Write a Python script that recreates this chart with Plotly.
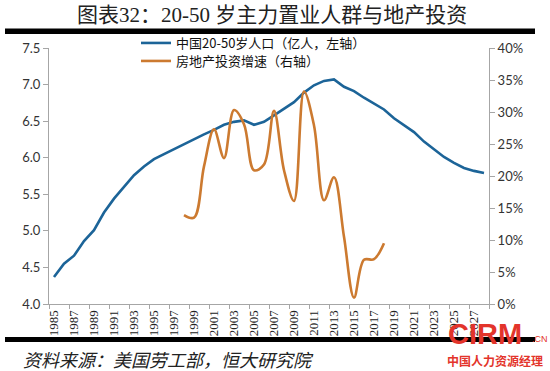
import plotly.graph_objects as go

# ---- data ----
pop_years = list(range(1985, 2029))
pop_values = [4.37, 4.55, 4.66, 4.86, 5.01, 5.25, 5.44, 5.60, 5.76, 5.88,
              5.98, 6.05, 6.12, 6.19, 6.26, 6.32, 6.38, 6.45, 6.49, 6.51,
              6.45, 6.49, 6.58, 6.67, 6.76, 6.89, 6.99, 7.05, 7.07, 6.97,
              6.91, 6.82, 6.74, 6.66, 6.54, 6.45, 6.35, 6.22, 6.11, 6.01,
              5.93, 5.86, 5.82, 5.79]

inv_years = list(range(1998, 2019))
inv_values = [13.9, 13.5, 21.5, 27.3, 22.8, 30.3, 28.1, 20.9, 21.8, 30.2,
              20.9, 16.1, 33.2, 27.9, 16.2, 19.8, 10.5, 1.0, 6.9, 7.0, 9.5]

x_tick_years = list(range(1985, 2028, 2))
x_tick_labels = [str(y) for y in x_tick_years]
x_minor_ticks = [1984.5 + 2 * k for k in range(23)]

name_pop = "中国20-50岁人口（亿人，左轴）"
name_inv = "房地产投资增速（右轴）"
title_text = "图表32：20-50 岁主力置业人群与地产投资"
source_text = "资料来源：美国劳工部，恒大研究院"

BLUE = "#1C6498"
ORANGE = "#CC7A30"
AXIS = "#A6A6A6"
SERIF = "Liberation Serif, Noto Sans CJK SC, serif"
CJK = "Noto Sans CJK SC, sans-serif"
NUM = "Lato, Liberation Sans, sans-serif"

fig = go.Figure()
fig.add_trace(go.Scatter(x=pop_years, y=pop_values, name=name_pop, mode="lines",
                         legend="legend",
                         line=dict(color=BLUE, width=2.6)))
fig.add_trace(go.Scatter(x=inv_years, y=inv_values, name=name_inv, mode="lines",
                         yaxis="y2", legend="legend2",
                         line=dict(color=ORANGE, width=2.6, shape="spline", smoothing=1.0)))

L, R, T, B = 49, 61, 48, 67
W, H = 550, 371
pw = W - L - R
ph = H - T - B

def px(xp):
    return (xp - L) / pw

def py(yp):
    return (H - B - yp) / ph

legend_style = dict(xanchor="left", yanchor="middle", bgcolor="rgba(0,0,0,0)",
                    font=dict(family=CJK, size=13, color="#111"), itemwidth=30,
                    borderwidth=0)

fig.update_layout(
    width=W, height=H,
    margin=dict(l=L, r=R, t=T, b=B),
    paper_bgcolor="white", plot_bgcolor="white",
    showlegend=True,
    legend=dict(x=px(136), y=py(43), **legend_style),
    legend2=dict(x=px(136), y=py(61), **legend_style),
    xaxis=dict(range=[1984.5, 2028.5], tickmode="array", tickvals=x_tick_years,
               ticktext=x_tick_labels, tickangle=-90, ticks="",
               tickfont=dict(family=SERIF, size=13, color="#222"),
               showline=True, linecolor=AXIS, linewidth=1, showgrid=False, zeroline=False,
               minor=dict(tickmode="array", tickvals=x_minor_ticks, ticks="outside",
                          ticklen=4, tickcolor=AXIS, showgrid=False)),
    yaxis=dict(range=[4.0, 7.5], dtick=0.5, tickformat=".1f", ticks="outside",
               ticklen=5, tickcolor=AXIS, showline=True, linecolor=AXIS, linewidth=1,
               showgrid=False, zeroline=False,
               tickfont=dict(family=NUM, size=13, color="#333")),
    yaxis2=dict(range=[0, 40], dtick=5, ticksuffix="%", overlaying="y", side="right",
                ticks="outside", ticklen=5, tickcolor=AXIS, showline=True, linecolor=AXIS,
                linewidth=1, showgrid=False, zeroline=False,
                tickfont=dict(family=NUM, size=13, color="#333")),
)

# decorative rules
fig.add_shape(type="rect", xref="paper", yref="paper", x0=px(5), x1=px(535),
              y0=py(34), y1=py(28.5), fillcolor="black", line=dict(width=0), layer="above")
fig.add_shape(type="rect", xref="paper", yref="paper", x0=px(5), x1=px(535),
              y0=py(342), y1=py(337), fillcolor="black", line=dict(width=0), layer="above")

fig.add_annotation(text=title_text, xref="paper", yref="paper", x=px(272), y=py(15),
                   xanchor="center", yanchor="middle", showarrow=False,
                   font=dict(family=SERIF, size=21, color="#222"))
fig.add_annotation(text=source_text, xref="paper", yref="paper", x=px(21), y=py(359),
                   xanchor="left", yanchor="middle", showarrow=False,
                   font=dict(family=CJK, size=18, color="#222", style="italic"))

# watermark
fig.add_annotation(text="<b>CIRM</b>", xref="paper", yref="paper", x=px(446), y=py(334),
                   xanchor="left", yanchor="middle", showarrow=False,
                   font=dict(family="Liberation Sans, sans-serif", size=29, color="#E3342B"))
fig.add_annotation(text=".CN", xref="paper", yref="paper", x=px(530), y=py(339),
                   xanchor="left", yanchor="middle", showarrow=False,
                   font=dict(family="Liberation Sans, sans-serif", size=9, color="#E3342B"))
fig.add_annotation(text="<b>中国人力资源经理</b>", xref="paper", yref="paper", x=px(445), y=py(360),
                   xanchor="left", yanchor="middle", showarrow=False,
                   font=dict(family=CJK, size=12, color="#E3342B"))

fig.write_html("out.html", config={"displayModeBar": False},
               post_script="document.body.style.margin='0px';")
